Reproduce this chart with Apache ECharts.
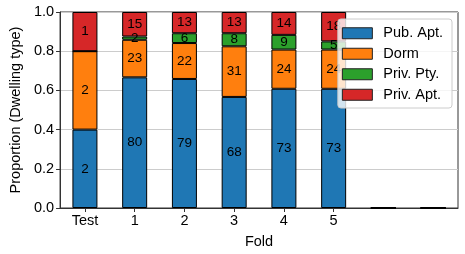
<!DOCTYPE html>
<html>
<head>
<meta charset="utf-8">
<script src="https://cdn.jsdelivr.net/npm/echarts@6/dist/echarts.min.js"></script>
<style>
html,body{margin:0;padding:0;background:#fff;}
#chart{width:465px;height:254px;}
</style>
</head>
<body>
<div id="chart"></div>
<script>
// Categories (two trailing empty slots with zero-height bars, as in the reference)
var categories = ['Test', '1', '2', '3', '4', '5', 'x6', 'x7'];
var tickLabels = ['Test', '1', '2', '3', '4', '5', '', ''];
var seriesNames = ['Pub. Apt.', 'Dorm', 'Priv. Pty.', 'Priv. Apt.'];
// counts per category
var pubApt  = [2, 80, 79, 68, 73, 73, 0, 0];
var dorm    = [2, 23, 22, 31, 24, 24, 0, 0];
var privPty = [0,  2,  6,  8,  9,  5, 0, 0];
var privApt = [1, 15, 13, 13, 14, 18, 0, 0];
var yTicks = [0, 0.2, 0.4, 0.6, 0.8, 1.0];
var colors = ['#1f77b4', '#ff7f0e', '#2ca02c', '#d62728'];

var counts = [pubApt, dorm, privPty, privApt];
var totals = categories.map(function (c, i) {
  return pubApt[i] + dorm[i] + privPty[i] + privApt[i];
});

var FONT = 'Liberation Sans, Arial, Helvetica, sans-serif';
var FS = 14.5;

var series = counts.map(function (arr, s) {
  return {
    name: seriesNames[s],
    type: 'bar',
    stack: 'total',
    barWidth: 25,
    itemStyle: { color: colors[s], borderColor: '#000', borderWidth: 1 },
    label: {
      show: true,
      position: 'inside',
      color: '#000',
      fontFamily: FONT,
      fontSize: 13.5,
      formatter: function (p) { return p.data.count > 0 ? String(p.data.count) : ''; }
    },
    emphasis: { disabled: true },
    data: arr.map(function (v, i) {
      return { value: totals[i] > 0 ? v / totals[i] : 0, count: v };
    })
  };
});

var chart = echarts.init(document.getElementById('chart'), null, { renderer: 'canvas' });
chart.setOption({
  animation: false,
  textStyle: { fontFamily: FONT },
  grid: {
    left: 50, right: 7, top: 12, bottom: 44,
    show: true, borderColor: '#333', borderWidth: 1, backgroundColor: 'transparent'
  },
  legend: {
    orient: 'vertical',
    right: 13, top: 19,
    data: seriesNames,
    itemWidth: 30, itemHeight: 11, itemGap: 4,
    padding: [6, 9, 5, 4],
    backgroundColor: 'rgba(255,255,255,0.8)',
    borderColor: '#cccccc', borderWidth: 1, borderRadius: 3,
    icon: 'rect',
    itemStyle: { borderColor: '#222', borderWidth: 1 },
    textStyle: { fontFamily: FONT, fontSize: FS, color: '#000', lineHeight: 16.5, padding: [0, 0, 0, 6] },
    selectedMode: false
  },
  xAxis: {
    type: 'category',
    data: categories,
    name: 'Fold',
    nameLocation: 'middle',
    nameGap: 26,
    nameTextStyle: { fontFamily: FONT, fontSize: FS, color: '#000' },
    axisLine: { show: true, lineStyle: { color: '#333', width: 1 } },
    axisTick: {
      show: true, alignWithLabel: true, length: 4,
      interval: function (idx) { return tickLabels[idx] !== ''; },
      lineStyle: { color: '#333' }
    },
    axisLabel: {
      interval: 0, margin: 5,
      fontFamily: FONT, fontSize: FS, color: '#000',
      formatter: function (v, idx) { return tickLabels[idx]; }
    },
    splitLine: { show: false }
  },
  yAxis: {
    type: 'value',
    min: yTicks[0], max: yTicks[yTicks.length - 1], interval: 0.2,
    name: 'Proportion (Dwelling type)',
    nameLocation: 'middle',
    nameGap: 37,
    nameTextStyle: { fontFamily: FONT, fontSize: FS, color: '#000' },
    axisLine: { show: true, lineStyle: { color: '#333', width: 1 } },
    axisTick: { show: true, length: 4, lineStyle: { color: '#333' } },
    axisLabel: {
      margin: 6, fontFamily: FONT, fontSize: FS, color: '#000',
      formatter: function (v) { return v.toFixed(1); }
    },
    splitLine: { show: true, lineStyle: { color: '#cccccc', width: 1 } }
  },
  series: series
});
</script>
</body>
</html>
